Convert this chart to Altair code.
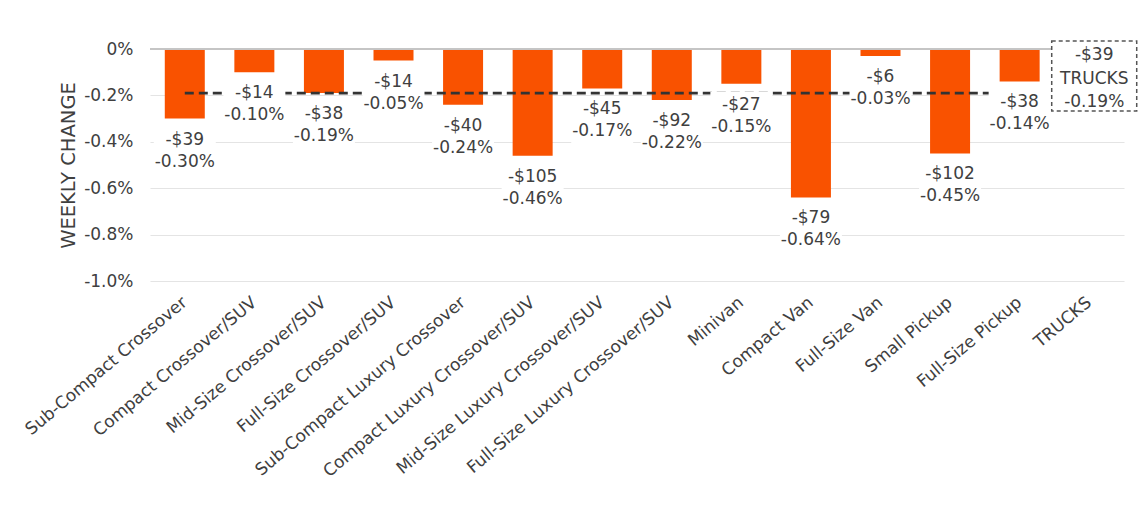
import altair as alt
import pandas as pd

categories = [
    "Sub-Compact Crossover", "Compact Crossover/SUV", "Mid-Size Crossover/SUV",
    "Full-Size Crossover/SUV", "Sub-Compact Luxury Crossover", "Compact Luxury Crossover/SUV",
    "Mid-Size Luxury Crossover/SUV", "Full-Size Luxury Crossover/SUV", "Minivan",
    "Compact Van", "Full-Size Van", "Small Pickup", "Full-Size Pickup", "TRUCKS",
]
pct_change = [-0.30, -0.10, -0.19, -0.05, -0.24, -0.46, -0.17, -0.22, -0.15, -0.64, -0.03, -0.45, -0.14, -0.19]
dollar_change = [-39, -14, -38, -14, -40, -105, -45, -92, -27, -79, -6, -102, -38, -39]
y_ticks = [0, -0.2, -0.4, -0.6, -0.8, -1.0]
total_name = "TRUCKS"

FONT = "DejaVu Sans"
BAR = "#F95200"
TXT = "#404040"

df = pd.DataFrame({
    "cat": categories,
    "pct": pct_change,
    "usd": dollar_change,
})
df["label"] = [f"-${abs(d)}\n{p:.2f}%" for d, p in zip(dollar_change, pct_change)]
total_pct = df.loc[df.cat == total_name, "pct"].iloc[0]
total_usd = df.loc[df.cat == total_name, "usd"].iloc[0]
df["avg"] = total_pct

segs = df[df.cat != total_name]
tot = df[df.cat == total_name].copy()
tot["label"] = f"-${abs(total_usd)}\n{total_name}\n{total_pct:.2f}%"

xenc = alt.X(
    "cat:N", sort=categories, title=None,
    scale=alt.Scale(paddingInner=0.425, paddingOuter=0.2125),
    axis=alt.Axis(labelAngle=-40, labelAlign="right", labelBaseline="middle",
                  labelFontSize=17, labelFont=FONT, labelColor=TXT, labelLimit=500,
                  labelPadding=19, domain=False, ticks=False, grid=False),
)
yscale = alt.Scale(domain=[-1.0, 0])
xs = alt.X("cat:N", sort=categories)

bars = alt.Chart(segs).mark_bar(color=BAR).encode(
    x=xenc,
    y=alt.Y("pct:Q", scale=yscale, title="WEEKLY CHANGE",
            axis=alt.Axis(values=y_ticks,
                          labelExpr="datum.value == 0 ? '0%' : '-' + format(abs(datum.value), '.1f') + '%'",
                          labelFontSize=17, labelFont=FONT, labelColor=TXT, labelPadding=17,
                          titleFontSize=19.5, titleFont=FONT, titleFontWeight="normal",
                          titleColor=TXT, titlePadding=5,
                          domain=False, ticks=False, grid=True, gridColor="#e4e4e4",
                          gridWidth=1.2)),
    y2=alt.datum(0),
)

zero = alt.Chart(segs).mark_rule(color="#c4c4c4", strokeWidth=1.5).encode(
    y=alt.datum(0), x=alt.value(0), x2=alt.value(974)
)

avg_line = alt.Chart(segs).mark_line(color="#333333", strokeWidth=2.6, strokeDash=[9, 5]).encode(
    x=xs, y=alt.Y("avg:Q", scale=yscale)
)

label_bg = alt.Chart(segs).mark_bar(
    width=62, fill="white", yOffset=8, y2Offset=58
).encode(x=xs, y=alt.Y("pct:Q", scale=yscale), y2=alt.Y2("pct:Q"))

labels = alt.Chart(segs).mark_text(
    baseline="top", align="center", dy=13, lineBreak="\n", lineHeight=22,
    fontSize=17, font=FONT, color=TXT
).encode(x=xs, y=alt.Y("pct:Q", scale=yscale), text="label:N")

box = alt.Chart(tot).mark_bar(
    width=85, fill="white", stroke="#555555", strokeWidth=1.5, strokeDash=[4, 3],
    xOffset=5, yOffset=-8, y2Offset=62
).encode(x=xs, y=alt.datum(0), y2=alt.datum(0))

box_text = alt.Chart(tot).mark_text(
    baseline="top", align="center", dy=-2, dx=5, lineBreak="\n", lineHeight=23.5,
    fontSize=17, font=FONT, color=TXT
).encode(x=xs, y=alt.datum(0), text="label:N")

chart = alt.layer(bars, zero, avg_line, label_bg, labels, box, box_text).properties(
    width=974, height=232,
    autosize=alt.AutoSizeParams(type="none"),
    padding={"left": 150, "top": 49, "right": 21, "bottom": 227},
    background="white",
).configure_view(stroke=None)

chart.save("out.html", embed_options={"renderer": "svg", "actions": False})
